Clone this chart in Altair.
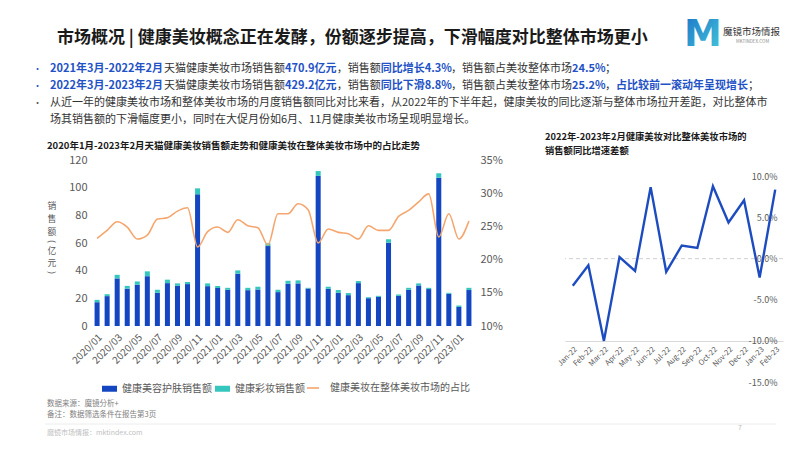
import altair as alt
import pandas as pd

FONT = "Noto Sans CJK SC"

# ---------------- data ----------------
months = [
    "2020/01", "2020/02", "2020/03", "2020/04", "2020/05", "2020/06",
    "2020/07", "2020/08", "2020/09", "2020/10", "2020/11", "2020/12",
    "2021/01", "2021/02", "2021/03", "2021/04", "2021/05", "2021/06",
    "2021/07", "2021/08", "2021/09", "2021/10", "2021/11", "2021/12",
    "2022/01", "2022/02", "2022/03", "2022/04", "2022/05", "2022/06",
    "2022/07", "2022/08", "2022/09", "2022/10", "2022/11", "2022/12",
    "2023/01", "2023/02",
]
skincare = [
    17.2, 21.6, 34.4, 27.0, 29.8, 36.0, 24.0, 31.0, 29.1, 30.3, 95.2, 28.8,
    27.4, 26.2, 37.8, 25.9, 26.4, 57.8, 24.5, 30.5, 30.8, 27.1, 108.5, 26.9,
    24.0, 22.3, 31.0, 20.1, 21.1, 60.2, 21.8, 26.2, 29.3, 26.7, 107.2, 23.3,
    13.8, 26.0,
]
makeup = [
    1.7, 1.4, 2.6, 2.0, 2.4, 3.5, 2.2, 2.5, 1.7, 1.5, 4.3, 2.0,
    1.6, 1.4, 2.4, 1.7, 2.0, 2.0, 1.7, 2.2, 2.2, 0.5, 3.5, 1.5,
    2.0, 1.5, 1.5, 0.7, 0.7, 2.5, 1.0, 1.4, 1.5, 0.9, 3.2, 0.7,
    1.0, 1.6,
]
share_pct = [
    23.2, 24.4, 25.7, 24.9, 23.1, 23.7, 26.1, 26.3, 27.3, 27.8, 21.9, 24.2,
    24.9, 24.1, 26.0, 25.1, 24.8, 22.2, 26.9, 26.9, 28.4, 27.5, 22.5, 24.6,
    24.1, 23.9, 23.1, 25.1, 24.4, 24.4, 26.5, 27.4, 28.7, 29.9, 23.4, 26.9,
    23.1, 25.8,
]

diff_months = ["Jan-22", "Feb-22", "Mar-22", "Apr-22", "May-22", "Jun-22", "Jul-22",
               "Aug-22", "Sep-22", "Oct-22", "Nov-22", "Dec-22", "Jan-23", "Feb-23"]
diff_pct = [-3.3, -0.8, -10.0, 0.2, -1.5, 8.7, -1.6, 1.6, 1.3, 8.8, 4.4, 7.1, -2.3, 8.4]

series_names = ["健康美容护肤销售额", "健康彩妆销售额", "健康美妆在整体美妆市场的占比"]
left_ticks = [0, 20, 40, 60, 80, 100, 120]
share_ticks = [10, 15, 20, 25, 30, 35]
diff_ticks = [-15, -10, -5, 0, 5, 10]
left_axis_title = ["销", "售", "额", "(", "亿", "元", ")"]

page_title = "市场概况 | 健康美妆概念正在发酵，份额逐步提高，下滑幅度对比整体市场更小"
bullet_lines = [
    [("2021年3月-2022年2月", True), ("天猫健康美妆市场销售额", False), ("470.9亿元", True),
     ("，销售额", False), ("同比增长4.3%", True), ("，销售额占美妆整体市场", False),
     ("24.5%", True), ("；", False)],
    [("2022年3月-2023年2月", True), ("天猫健康美妆市场销售额", False), ("429.2亿元", True),
     ("，销售额", False), ("同比下滑8.8%", True), ("，销售额占美妆整体市场", False),
     ("25.2%", True), ("，", False), ("占比较前一滚动年呈现增长", True), ("；", False)],
    [("从近一年的健康美妆市场和整体美妆市场的月度销售额同比对比来看，从2022年的下半年起，"
      "健康美妆的同比逐渐与整体市场拉开差距，对比整体市", False)],
    [("场其销售额的下滑幅度更小，同时在大促月份如6月、11月健康美妆市场呈现明显增长。", False)],
]
left_title = "2020年1月-2023年2月天猫健康美妆销售额走势和健康美妆在整体美妆市场中的占比走势"
right_title = ["2022年-2023年2月健康美妆对比整体美妆市场的", "销售额同比增速差额"]
brand_name = "魔镜市场情报"
brand_site = "MKTINDEX.COM"
source_note = "数据来源：魔镜分析+"
remark_note = "备注：数据筛选条件在报告第3页"
footer_site = "魔镜市场情报：mktindex.com"
page_number = "7"

# ---------------- styles ----------------
BAR_BLUE = "#1446C2"
TEAL = "#35C6BE"
ORANGE = "#F5A66F"
LINE_BLUE = "#1D4CC0"
HL_BLUE = "#2352C6"
DARK = "#333333"
AXIS_GRAY = "#595959"

# left plot origin on the page (used to place the annotation texts)
OX, OY = 91, 160
one = pd.DataFrame({"_": [0]})


def text_layer(s, px, py, size, color, bold=False, align="left", baseline="middle", **kw):
    return alt.Chart(one).mark_text(
        align=align, baseline=baseline, fontSize=size, font=FONT,
        fontWeight="bold" if bold else "normal", color=color, **kw
    ).encode(x=alt.value(px - OX), y=alt.value(py - OY), text=alt.value(s))


def run_width(s, size, bold):
    em = 0.0
    for ch in s:
        o = ord(ch)
        if o >= 0x2E80:
            em += 1.0
        elif ch.isdigit():
            em += 0.6 if bold else 0.555
        elif ch == ".":
            em += 0.3
        elif ch == "-":
            em += 0.36
        elif ch == "%":
            em += 0.9
        elif ch == " ":
            em += 0.23
        else:
            em += 0.55
    return em * size


annotations = []
# anchor to pin the page origin (white 1px)
annotations.append(
    alt.Chart(one).mark_rect(color="white").encode(
        x=alt.value(8 - OX), x2=alt.value(9 - OX), y=alt.value(8 - OY), y2=alt.value(9 - OY))
)
annotations.append(text_layer(page_title, 57, 38, 17, "#1a1a1a", bold=True))
annotations.append(
    alt.Chart(one).mark_text(
        align="center", baseline="middle", fontSize=38, font="DejaVu Sans", fontWeight="bold",
        color=alt.LinearGradient(gradient="linear", x1=0, x2=1, y1=0, y2=1,
                                 stops=[alt.GradientStop(offset=0, color="#1B72C8"),
                                        alt.GradientStop(offset=1, color="#45CBDA")])
    ).encode(x=alt.value(703 - OX), y=alt.value(35 - OY), text=alt.value("M"))
)
annotations.append(text_layer(brand_name, 723, 32, 9.5, DARK))
annotations.append(text_layer(brand_site, 736, 42, 4.5, "#8a8a8a"))

BFS = 11
line_y = [69, 86, 103, 120]
for i, runs in enumerate(bullet_lines):
    if i < 3:
        annotations.append(text_layer("•", 33, line_y[i], 9, HL_BLUE if i < 2 else "#555555"))
    x = 50
    for s, bold in runs:
        annotations.append(text_layer(s, x, line_y[i], BFS, HL_BLUE if bold else DARK, bold=bold))
        x += run_width(s, BFS, bold)

# vertical y-axis title of the left chart (characters stacked, brackets turned)
title_y = [206, 218.8, 231.6, 241.5, 250.5, 263.3, 272.8]
for ch, ty in zip(left_axis_title, title_y):
    annotations.append(text_layer(ch, 52, ty, 8.8, AXIS_GRAY, align="center",
                                  angle=90 if ch in "()" else 0))

annotations.append(text_layer(left_title, 47, 146, 9.5, "#1a1a1a", bold=True))
annotations.append(text_layer(right_title[0], 545, 136.5, 9.3, "#1a1a1a", bold=True))
annotations.append(text_layer(right_title[1], 545, 150.5, 9.3, "#1a1a1a", bold=True))

annotations.append(text_layer(source_note, 47, 404, 7.5, "#808080"))
annotations.append(text_layer(remark_note, 47, 415, 7.5, "#808080"))
annotations.append(
    alt.Chart(one).mark_rule(color="#ececec", strokeWidth=1).encode(
        x=alt.value(45 - OX), x2=alt.value(776 - OX), y=alt.value(424 - OY))
)
annotations.append(text_layer(footer_site, 47, 433, 7, "#c0c0c0"))
annotations.append(text_layer(page_number, 738, 428, 7, "#c0c0c0"))

# ---------------- left chart ----------------
df = pd.DataFrame({"month": months, "skin": skincare, "makeup": makeup,
                   "share": [v / 100 for v in share_pct]})

x_enc = alt.X(
    "month:N", sort=None,
    scale=alt.Scale(paddingInner=0.5, paddingOuter=0.355),
    axis=alt.Axis(values=months[::2], labelAngle=-45, labelFontSize=10, labelColor=AXIS_GRAY,
                  labelPadding=6, domain=False, ticks=False, title=None, grid=False),
)
y_left_axis = alt.Axis(
    values=left_ticks, labelFontSize=11, labelColor=AXIS_GRAY, labelPadding=4,
    domain=False, ticks=False, grid=False, title=None,
)
y_left_scale = alt.Scale(domain=[0, 120], nice=False)

fill_scale = alt.Scale(domain=series_names[:2], range=[BAR_BLUE, TEAL])
fill_legend = alt.Legend(
    title=None, orient="none", legendX=102 - OX, legendY=381 - OY, direction="horizontal",
    symbolType="M-1,-0.4H1V0.4H-1Z", symbolSize=225, symbolStrokeWidth=0,
    labelFontSize=10, labelColor=AXIS_GRAY, labelOffset=5, columnPadding=3, padding=0,
)

bars_skin = alt.Chart(df).transform_calculate(
    series=f"'{series_names[0]}'"
).mark_bar().encode(
    x=x_enc,
    y=alt.Y("skin:Q", scale=y_left_scale, axis=y_left_axis),
    fill=alt.Fill("series:N", scale=fill_scale, legend=fill_legend),
)
bars_makeup = alt.Chart(df).transform_calculate(
    total="datum.skin + datum.makeup", series=f"'{series_names[1]}'"
).mark_bar().encode(
    x=x_enc,
    y=alt.Y("skin:Q", scale=y_left_scale, axis=y_left_axis),
    y2="total:Q",
    fill=alt.Fill("series:N", scale=fill_scale, legend=fill_legend),
)

share_line = alt.Chart(df).transform_calculate(
    series=f"'{series_names[2]}'"
).mark_line(interpolate="monotone", strokeWidth=1.6).encode(
    x=x_enc,
    y=alt.Y("share:Q", scale=alt.Scale(domain=[0.10, 0.35], nice=False, zero=False),
            axis=alt.Axis(orient="right", values=[v / 100 for v in share_ticks], format=".0%",
                          labelFontSize=11, labelColor=AXIS_GRAY, labelPadding=5,
                          domain=False, ticks=False, grid=False, title=None)),
    stroke=alt.Stroke(
        "series:N", scale=alt.Scale(domain=[series_names[2]], range=[ORANGE]),
        legend=alt.Legend(title=None, orient="none", legendX=306 - OX, legendY=381 - OY,
                          symbolType="stroke", symbolSize=144, symbolStrokeWidth=1.6,
                          labelFontSize=10, labelColor=AXIS_GRAY, labelOffset=10, padding=0),
    ),
)

left = alt.layer(
    alt.layer(bars_skin, bars_makeup), share_line, *annotations
).resolve_scale(y="independent").properties(width=384, height=166)

# ---------------- right chart ----------------
df2 = pd.DataFrame({"month": diff_months, "diff": [v / 100 for v in diff_pct]})
y2_scale = alt.Scale(domain=[-0.15, 0.12], nice=False, zero=False)
y2_axis = alt.Axis(
    orient="right", values=[v / 100 for v in diff_ticks], format=".1%",
    labelExpr="replace(datum.label, '−', '-')",
    labelAlign="right", labelPadding=-6, tickSize=0, ticks=False, domain=False, grid=False,
    labelFontSize=9, labelColor=AXIS_GRAY, title=None,
)
zero_rule = alt.Chart(pd.DataFrame({"z": [0.0]})).mark_rule(
    color="#cfcfcf", strokeDash=[4, 3], strokeWidth=1
).encode(y=alt.Y("z:Q", scale=y2_scale, axis=y2_axis))

diff_line = alt.Chart(df2).mark_line(color=LINE_BLUE, strokeWidth=2.4).encode(
    x=alt.X("month:N", sort=None, scale=alt.Scale(type="point", padding=0.5),
            axis=alt.Axis(labelAngle=-45, labelFontSize=7.5, labelColor=AXIS_GRAY,
                          domainColor="#d9d9d9", ticks=False, offset=-41, labelPadding=4,
                          title=None, grid=False)),
    y=alt.Y("diff:Q", scale=y2_scale, axis=y2_axis),
)

right = alt.layer(zero_rule, diff_line).properties(width=218, height=222)

chart = alt.hconcat(left, right, spacing=90, bounds="flush").properties(
    padding=0
).configure(font=FONT).configure_view(stroke=None).configure_axis(
    labelFont=FONT, titleFont=FONT
).configure_legend(labelFont=FONT)

chart.save("out.html", embed_options={"renderer": "svg", "actions": False})
